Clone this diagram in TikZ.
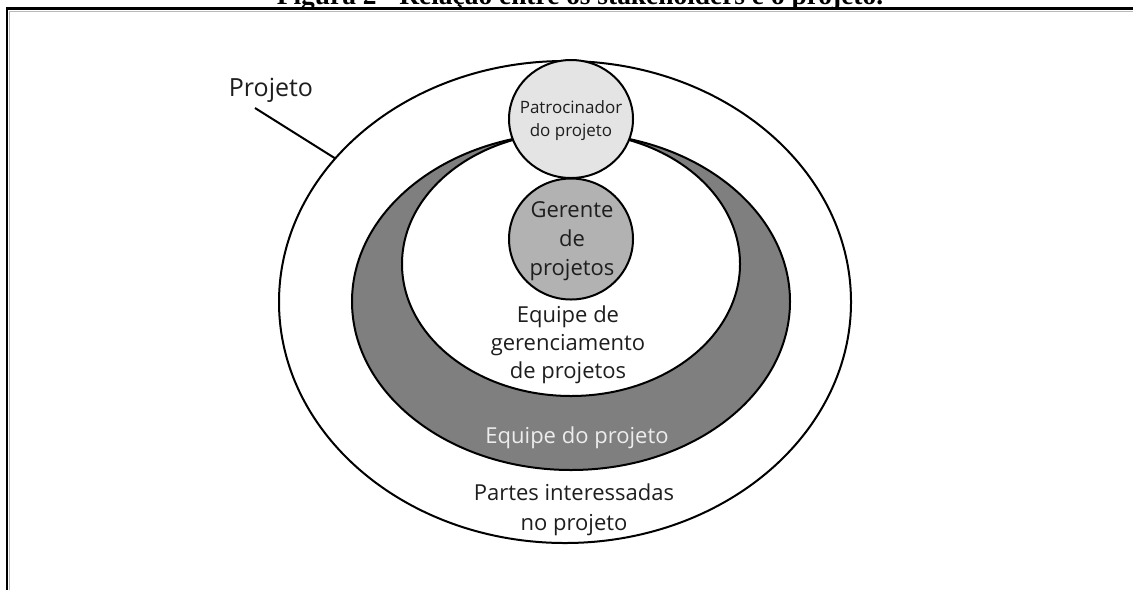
\documentclass[tikz,border=0pt]{standalone}
\usepackage{fontspec}
\setmainfont{Open Sans}
\newfontfamily\capfont{Liberation Serif}
\usetikzlibrary{shapes.geometric}
\definecolor{sponsor}{HTML}{E4E4E4}
\definecolor{manager}{HTML}{B2B2B2}
\definecolor{team}{HTML}{7F7F7F}
\definecolor{ink}{HTML}{1E1E1E}
\begin{document}
\begin{tikzpicture}[x=0.5pt,y=-0.5pt,
  ring/.style={draw=black, line width=1pt, ellipse, inner sep=0pt, outer sep=0pt},
  lbl/.style={font=\fontsize{11}{14}\selectfont, align=center, inner sep=0pt, text=ink},
]
\useasboundingbox (0,0) rectangle (1133,590);
\fill[white] (0,0) rectangle (1133,590);
% frame
\draw[gray!55, line width=0.6pt] (9.8,590) -- (9.8,11.2) -- (1133,11.2);
\draw[line width=1.3pt] (7,590) -- (7,8.5) -- (1133,8.5);
\node[anchor=base, inner sep=0pt] (cap) at (580,4) {\capfont\bfseries\fontsize{13.7}{16}\selectfont Figura 2 - Relação entre os stakeholders e o projeto.};
% regions
\node[ring, fill=white, minimum width=286pt, minimum height=241pt] (outer) at (565,302) {};
\node[ring, fill=team, minimum width=219pt, minimum height=168.5pt] (crescent) at (571,301.5) {};
\node[ring, fill=white, minimum width=169pt, minimum height=132pt] (inner) at (571,264) {};
% circles
\node[ring, fill=sponsor, minimum width=62pt, minimum height=59pt] (sponsorc) at (571,119) {};
\node[lbl, font=\fontsize{8.5}{11.5}\selectfont] (sponsort) at (571,121) {Patrocinador\\do projeto};
\node[ring, fill=manager, minimum width=62pt, minimum height=60.5pt] (managerc) at (571,239) {};
\node[lbl, font=\fontsize{11}{14.5}\selectfont] (managert) at (572,241) {Gerente\\de\\projetos};
% labels
\node[lbl] (mgmt) at (568,345) {Equipe de\\gerenciamento\\de projetos};
\node[lbl, text=white!93!black] (teamt) at (577,438) {Equipe do projeto};
\node[lbl, font=\fontsize{11}{15}\selectfont] (stake) at (574,510) {Partes interessadas\\no projeto};
\node[lbl, font=\fontsize{12.5}{15}\selectfont] (proj) at (271,90) {Projeto};
\coordinate (projstart) at (255,108);
\draw[line width=1pt] (projstart) -- (outer.148);
\end{tikzpicture}
\end{document}
